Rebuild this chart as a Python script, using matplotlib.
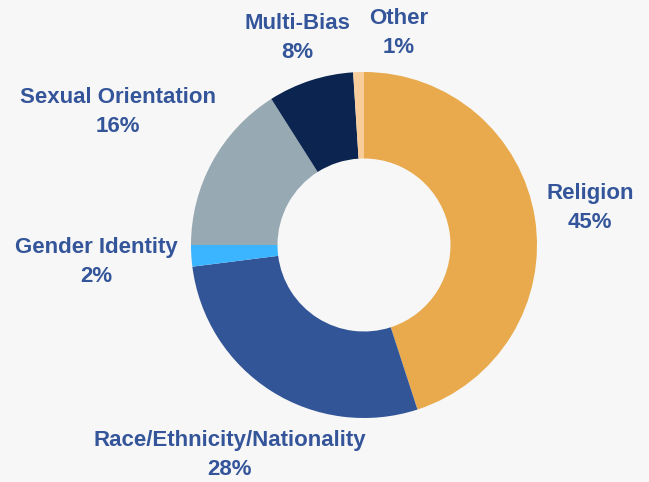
import matplotlib.pyplot as plt

plt.rcParams['font.family'] = ['Liberation Sans', 'DejaVu Sans']

categories = ['Religion', 'Race/Ethnicity/Nationality', 'Gender Identity',
              'Sexual Orientation', 'Multi-Bias', 'Other']
shares = [45, 28, 2, 16, 8, 1]
colors = ['#E9AA4D', '#325597', '#3BB5FF', '#97A9B3', '#0B2550', '#F8CD9A']
# label centres, in pie-radius units
label_pos = [(1.306, 0.214), (-0.775, -1.214), (-1.549, -0.098),
             (-1.422, 0.769), (-0.387, 1.197), (0.202, 1.225)]

bg = '#F7F7F7'
fig = plt.figure(figsize=(6.49, 4.82), dpi=100, facecolor=bg)
ax = fig.add_axes([0, 0, 1, 1], facecolor=bg)

ax.pie(shares, colors=colors, startangle=90, counterclock=False,
       wedgeprops=dict(width=0.5, linewidth=0))

for name, val, (x, y) in zip(categories, shares, label_pos):
    ax.text(x, y, f'{name}\n{val}%', ha='center', va='center',
            fontsize=16, fontweight='bold', color='#34559A', linespacing=1.5)

ax.set_xlim(-364 / 173, (649 - 364) / 173)
ax.set_ylim(-(482 - 245) / 173, 245 / 173)
ax.set_aspect('auto')
ax.axis('off')

fig.savefig('out.png', dpi=100, facecolor=bg)
